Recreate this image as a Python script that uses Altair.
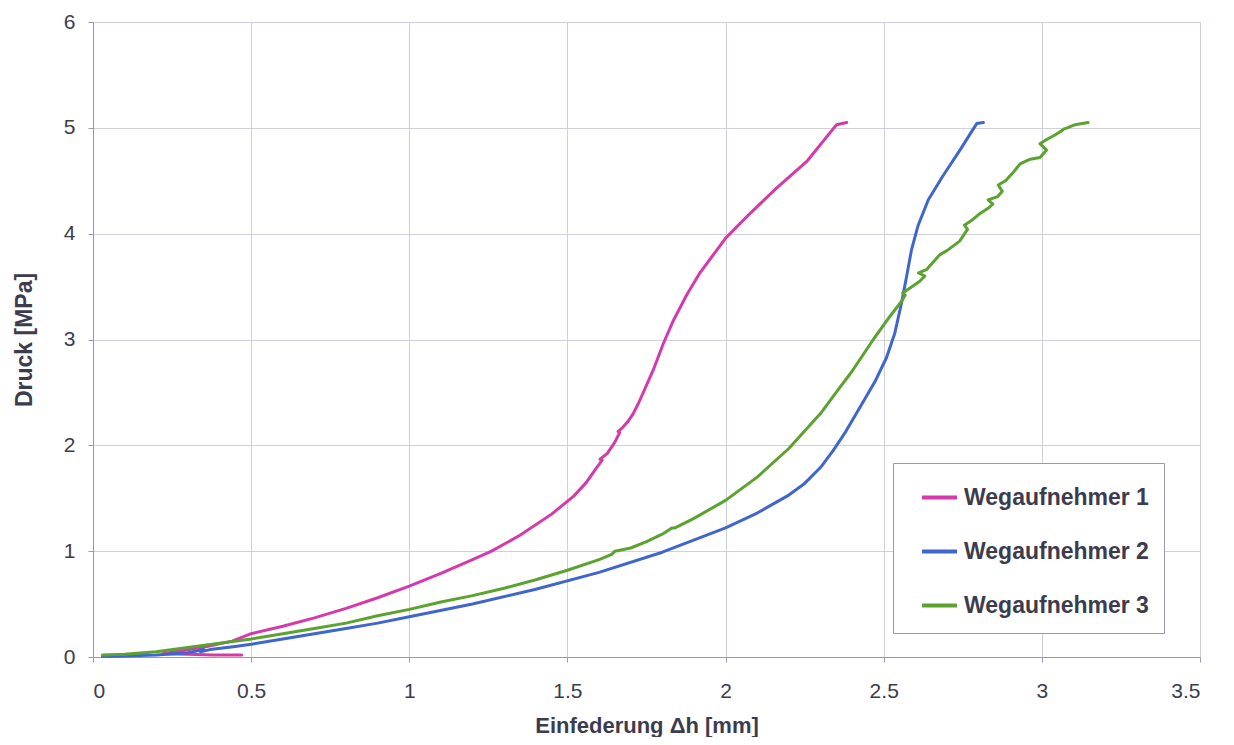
import altair as alt
import pandas as pd

# Wegaufnehmer 1 (magenta)
w1_x = [0.47, 0.38, 0.30, 0.22, 0.28, 0.36, 0.44, 0.50, 0.60, 0.70, 0.80, 0.90, 1.00, 1.10, 1.20,
        1.26, 1.35, 1.45, 1.52, 1.56, 1.59, 1.61, 1.603, 1.625, 1.65, 1.665, 1.66, 1.675, 1.69,
        1.708, 1.725, 1.74, 1.771, 1.803, 1.835, 1.877, 1.919, 1.961, 2.001, 2.077, 2.161, 2.256,
        2.351, 2.383]
w1_y = [0.02, 0.02, 0.025, 0.03, 0.06, 0.10, 0.15, 0.22, 0.29, 0.37, 0.46, 0.56, 0.67, 0.79, 0.92,
        1.00, 1.15, 1.35, 1.52, 1.65, 1.78, 1.86, 1.87, 1.92, 2.03, 2.12, 2.13, 2.17, 2.22,
        2.30, 2.40, 2.50, 2.71, 2.96, 3.18, 3.42, 3.63, 3.80, 3.96, 4.19, 4.43, 4.68,
        5.03, 5.05]

# Wegaufnehmer 2 (blue)
w2_x = [0.03, 0.10, 0.20, 0.30, 0.35, 0.34, 0.37, 0.45, 0.50, 0.60, 0.70, 0.80, 0.90, 1.00, 1.20,
        1.40, 1.60, 1.80, 2.00, 2.10, 2.20, 2.25, 2.30, 2.34, 2.38, 2.425, 2.472, 2.509, 2.535,
        2.556, 2.572, 2.588, 2.609, 2.641, 2.688, 2.741, 2.794, 2.815]
w2_y = [0.005, 0.01, 0.02, 0.04, 0.07, 0.05, 0.07, 0.10, 0.12, 0.17, 0.22, 0.27, 0.32, 0.38, 0.50,
        0.64, 0.80, 0.99, 1.22, 1.36, 1.53, 1.64, 1.79, 1.95, 2.13, 2.36, 2.60, 2.83, 3.06,
        3.34, 3.59, 3.85, 4.08, 4.32, 4.55, 4.79, 5.04, 5.05]

# Wegaufnehmer 3 (green)
w3_x = [0.03, 0.10, 0.20, 0.30, 0.40, 0.50, 0.60, 0.70, 0.80, 0.90, 1.00, 1.10, 1.20, 1.30, 1.40,
        1.50, 1.60, 1.64, 1.65, 1.70, 1.75, 1.80, 1.83, 1.84, 1.90, 2.00, 2.10, 2.20, 2.30, 2.362,
        2.40, 2.467, 2.52, 2.556, 2.568, 2.56, 2.59, 2.614, 2.63, 2.61, 2.635, 2.677, 2.70, 2.74,
        2.765, 2.755, 2.78, 2.80, 2.83, 2.845, 2.83, 2.86, 2.875, 2.862, 2.885, 2.91, 2.931, 2.96,
        2.994, 3.015, 2.994, 3.015, 3.04, 3.062, 3.07, 3.08, 3.105, 3.146]
w3_y = [0.02, 0.025, 0.05, 0.09, 0.13, 0.17, 0.22, 0.27, 0.32, 0.39, 0.45, 0.52, 0.58, 0.65, 0.73,
        0.82, 0.92, 0.97, 1.00, 1.03, 1.09, 1.16, 1.22, 1.22, 1.31, 1.48, 1.70, 1.97, 2.30, 2.55,
        2.70, 3.00, 3.22, 3.36, 3.42, 3.44, 3.50, 3.55, 3.60, 3.63, 3.66, 3.80, 3.84, 3.93,
        4.04, 4.08, 4.13, 4.18, 4.24, 4.28, 4.32, 4.35, 4.40, 4.46, 4.50, 4.58, 4.66, 4.70,
        4.72, 4.79, 4.85, 4.89, 4.93, 4.97, 4.99, 5.00, 5.03, 5.05]

series_names = ["Wegaufnehmer 1", "Wegaufnehmer 2", "Wegaufnehmer 3"]
series_colors = ["#d43aaa", "#3f66cc", "#5ba22f"]

x_ticks = [0, 0.5, 1, 1.5, 2, 2.5, 3, 3.5]
y_ticks = [0, 1, 2, 3, 4, 5, 6]

rows = []
for name, xs, ys in zip(series_names, [w1_x, w2_x, w3_x], [w1_y, w2_y, w3_y]):
    for i, (xv, yv) in enumerate(zip(xs, ys)):
        rows.append({"series": name, "x": xv, "y": yv, "idx": i})
df = pd.DataFrame(rows)

text_color = "#3c3c4e"
font = "Liberation Sans"

chart = alt.Chart(df).mark_line(strokeWidth=3, strokeJoin="round", strokeCap="round").encode(
    x=alt.X("x:Q",
            scale=alt.Scale(domain=[0, 3.5], nice=False, zero=False),
            axis=alt.Axis(values=x_ticks, format="~g", title="Einfederung Δh [mm]",
                          titleY=75.5, titleBaseline="alphabetic", titleFontSize=22,
                          labelPadding=18)),
    y=alt.Y("y:Q",
            scale=alt.Scale(domain=[0, 6], nice=False),
            axis=alt.Axis(values=y_ticks, format="d", title="Druck [MPa]",
                          titleX=-69, titleY=317.5, titleBaseline="middle", titleAngle=-90,
                          labelPadding=13)),
    color=alt.Color("series:N",
                    scale=alt.Scale(domain=series_names, range=series_colors),
                    legend=alt.Legend(title=None, orient="none", legendX=800, legendY=441,
                                      symbolType="stroke", symbolSize=1225, symbolStrokeWidth=4,
                                      symbolOffset=12,
                                      labelFontSize=23, labelFontWeight="bold", labelColor=text_color,
                                      labelFont=font, labelOffset=5, labelLimit=400,
                                      rowPadding=22, padding=15,
                                      fillColor="white", strokeColor="#9a9aa8")),
    detail="series:N",
    order="idx:Q",
).properties(
    width=1107, height=635,
    autosize=alt.AutoSizeParams(type="none"),
    padding={"left": 85, "top": 14, "right": 26, "bottom": 80},
).configure_axis(
    grid=True, gridColor="#cfd0dc", gridWidth=1,
    domainColor="#9a9aaa", domainWidth=1,
    tickColor="#9a9aaa", tickSize=5,
    labelFont=font, labelFontSize=21, labelColor=text_color,
    titleFont=font, titleFontSize=23, titleFontWeight="bold", titleColor=text_color,
).configure_view(stroke=None).configure_legend(symbolStrokeColor=None)

chart.save("out.html", embed_options={"renderer": "svg", "actions": False})
